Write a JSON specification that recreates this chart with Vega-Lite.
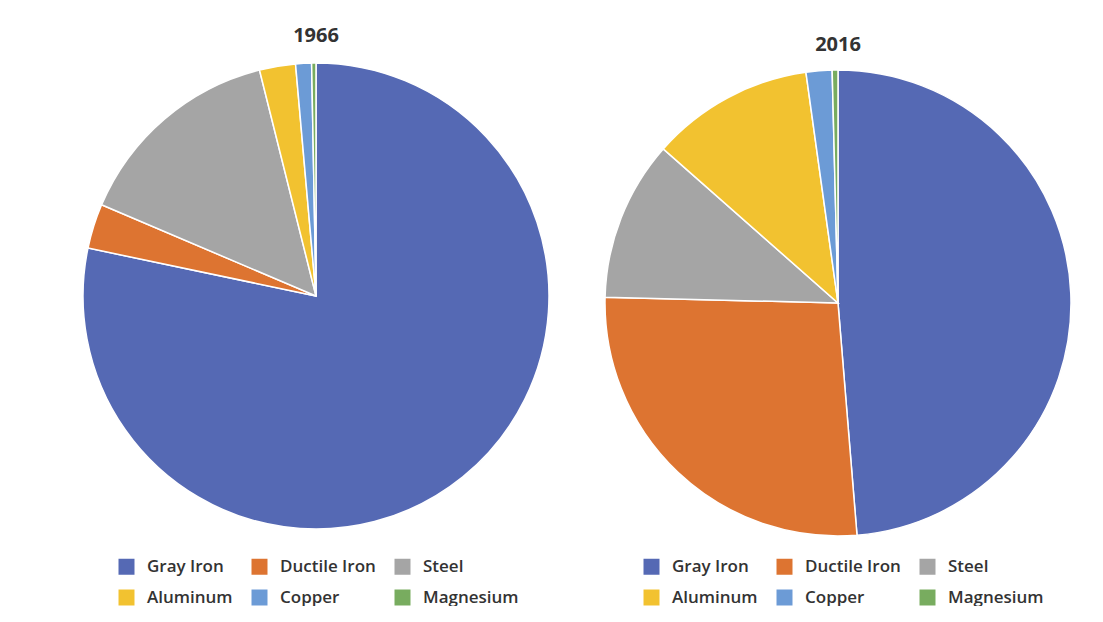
{
  "$schema": "https://vega.github.io/schema/vega-lite/v6.json",
  "background": "white",
  "padding": {"left": 80, "top": 26, "right": 0, "bottom": 0},
  "hconcat": [
    {
      "width": 466,
      "height": 466,
      "title": {"text": "1966", "offset": 14},
      "data": {"values": [
        {"material": "Gray Iron", "share": 78.3, "rank": 1},
        {"material": "Ductile Iron", "share": 3.1, "rank": 2},
        {"material": "Steel", "share": 14.7, "rank": 3},
        {"material": "Aluminum", "share": 2.5, "rank": 4},
        {"material": "Copper", "share": 1.1, "rank": 5},
        {"material": "Magnesium", "share": 0.3, "rank": 6}
      ]},
      "mark": {"type": "arc", "stroke": "white", "strokeWidth": 1.5},
      "encoding": {
        "theta": {"field": "share", "type": "quantitative", "stack": true},
        "order": {"field": "rank", "type": "quantitative"},
        "color": {
          "field": "material", "type": "nominal",
          "scale": {"domain": ["Gray Iron", "Ductile Iron", "Steel", "Aluminum", "Copper", "Magnesium"],
                    "range": ["#5569b4", "#dd7431", "#a5a5a5", "#f2c230", "#6c9bd6", "#78ac5f"]},
          "legend": {"orient": "none", "direction": "horizontal", "legendX": 35, "legendY": 495}
        }
      }
    },
    {
      "width": 466,
      "height": 480,
      "title": {"text": "2016", "offset": 8},
      "data": {"values": [
        {"material": "Gray Iron", "share": 48.7, "rank": 1},
        {"material": "Ductile Iron", "share": 26.7, "rank": 2},
        {"material": "Steel", "share": 11.1, "rank": 3},
        {"material": "Aluminum", "share": 11.3, "rank": 4},
        {"material": "Copper", "share": 1.8, "rank": 5},
        {"material": "Magnesium", "share": 0.4, "rank": 6}
      ]},
      "mark": {"type": "arc", "stroke": "white", "strokeWidth": 1.5},
      "encoding": {
        "theta": {"field": "share", "type": "quantitative", "stack": true},
        "order": {"field": "rank", "type": "quantitative"},
        "color": {
          "field": "material", "type": "nominal",
          "scale": {"domain": ["Gray Iron", "Ductile Iron", "Steel", "Aluminum", "Copper", "Magnesium"],
                    "range": ["#5569b4", "#dd7431", "#a5a5a5", "#f2c230", "#6c9bd6", "#78ac5f"]},
          "legend": {"orient": "none", "direction": "horizontal", "legendX": 38, "legendY": 495}
        }
      }
    }
  ],
  "spacing": 56,
  "bounds": "flush",
  "resolve": {"scale": {"color": "independent"}},
  "config": {
    "view": {"stroke": null},
    "title": {"font": "Open Sans", "fontSize": 20, "fontWeight": "bold", "color": "#333333", "anchor": "middle"},
    "legend": {
      "title": null,
      "columns": 3,
      "symbolType": "square",
      "symbolSize": 256,
      "symbolStrokeWidth": 0,
      "labelFont": "Open Sans",
      "labelFontSize": 17,
      "labelFontWeight": 600,
      "labelColor": "#333333",
      "labelOffset": 12,
      "rowPadding": 13,
      "columnPadding": 18,
      "labelLimit": 300
    }
  }
}
